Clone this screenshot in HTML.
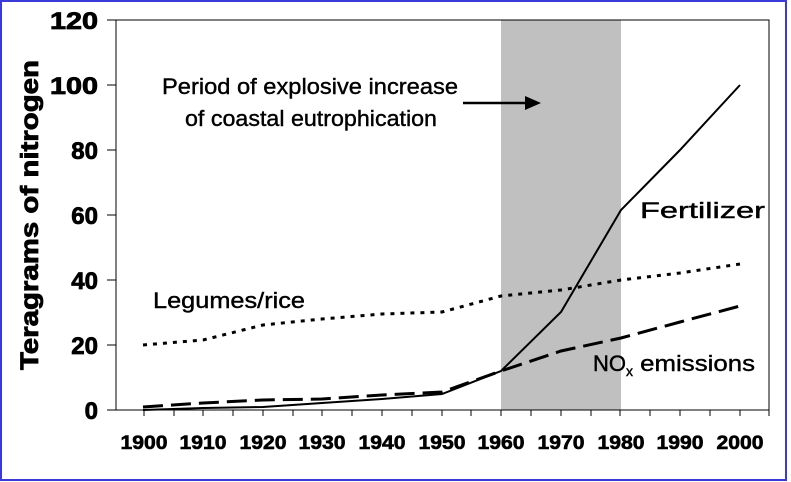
<!DOCTYPE html>
<html><head><style>body{margin:0;background:#fff}svg{display:block}</style></head><body>
<svg width="791" height="482" xmlns="http://www.w3.org/2000/svg" font-family="Liberation Sans, Arial, sans-serif" font-weight="bold">
<rect x="1" y="1" width="785" height="479" fill="#fff" stroke="#3a3ad8" stroke-width="2"/>
<rect x="501" y="20" width="120" height="390" fill="#c0c0c0"/>
<rect x="116" y="20" width="653" height="390" fill="none" stroke="#000" stroke-width="1"/>
<g stroke="#000" stroke-width="1">
<line x1="107" y1="20" x2="116" y2="20"/><line x1="107" y1="85" x2="116" y2="85"/><line x1="107" y1="150" x2="116" y2="150"/><line x1="107" y1="215" x2="116" y2="215"/><line x1="107" y1="280" x2="116" y2="280"/><line x1="107" y1="345" x2="116" y2="345"/><line x1="107" y1="410" x2="116" y2="410"/>
<path d="M144 410v6M174 410v6M203 410v6M233 410v6M263 410v6M293 410v6M322 410v6M352 410v6M382 410v6M412 410v6M442 410v6M471 410v6M501 410v6M531 410v6M561 410v6M591 410v6M620 410v6M650 410v6M680 410v6M710 410v6M740 410v6M769 410v6"/>
</g>
<g font-size="24" text-anchor="end" stroke="#000" stroke-width="0.8">
<text x="98" y="29" textLength="48" lengthAdjust="spacingAndGlyphs">120</text><text x="98" y="94" textLength="48" lengthAdjust="spacingAndGlyphs">100</text><text x="98" y="159">80</text><text x="98" y="224">60</text><text x="98" y="289">40</text><text x="98" y="354">20</text><text x="98" y="419">0</text>
</g>
<g font-size="19" text-anchor="middle" stroke="#000" stroke-width="0.6">
<text x="144" y="449" textLength="47" lengthAdjust="spacingAndGlyphs">1900</text><text x="203" y="449" textLength="47" lengthAdjust="spacingAndGlyphs">1910</text><text x="263" y="449" textLength="47" lengthAdjust="spacingAndGlyphs">1920</text><text x="322" y="449" textLength="47" lengthAdjust="spacingAndGlyphs">1930</text><text x="382" y="449" textLength="47" lengthAdjust="spacingAndGlyphs">1940</text><text x="442" y="449" textLength="47" lengthAdjust="spacingAndGlyphs">1950</text><text x="501" y="449" textLength="47" lengthAdjust="spacingAndGlyphs">1960</text><text x="561" y="449" textLength="47" lengthAdjust="spacingAndGlyphs">1970</text><text x="621" y="449" textLength="47" lengthAdjust="spacingAndGlyphs">1980</text><text x="680" y="449" textLength="47" lengthAdjust="spacingAndGlyphs">1990</text><text x="740" y="449" textLength="47" lengthAdjust="spacingAndGlyphs">2000</text>
</g>
<text transform="translate(38,215) rotate(-90)" font-size="25" text-anchor="middle" stroke="#000" stroke-width="0.8" textLength="310" lengthAdjust="spacingAndGlyphs">Teragrams of nitrogen</text>
<polyline fill="none" stroke="#000" stroke-width="2" points="143,410 203,408 263,407 322,403 382,399 442,394 501,371 561,312 621,210 680,150 740,85"/>
<polyline fill="none" stroke="#000" stroke-width="3" stroke-dasharray="4,6" points="143,345 203,340 263,325 322,319 382,314 442,312 501,296 561,290 621,280 680,273 740,264"/>
<polyline fill="none" stroke="#000" stroke-width="3" stroke-dasharray="20,8" points="143,407 203,403 263,400 322,399 382,395 442,392 501,371 561,351 621,338 680,322 740,306"/>
<g font-size="22" font-weight="normal" fill="#000" stroke="#000" stroke-width="0.4">
<text x="162" y="94" textLength="296" lengthAdjust="spacingAndGlyphs">Period of explosive increase</text>
<text x="185" y="126" textLength="252" lengthAdjust="spacingAndGlyphs">of coastal eutrophication</text>
<text x="640" y="218" textLength="125" lengthAdjust="spacingAndGlyphs">Fertilizer</text>
<text x="153" y="308" textLength="152" lengthAdjust="spacingAndGlyphs">Legumes/rice</text>
<text x="593" y="371">NO<tspan font-size="14" dy="5">x</tspan><tspan dy="-5" textLength="122" lengthAdjust="spacingAndGlyphs"> emissions</tspan></text>
</g>
<line x1="463" y1="103" x2="528" y2="103" stroke="#000" stroke-width="2.5"/>
<polygon points="541,103 525,96 525,110" fill="#000"/>
</svg>
</body></html>
